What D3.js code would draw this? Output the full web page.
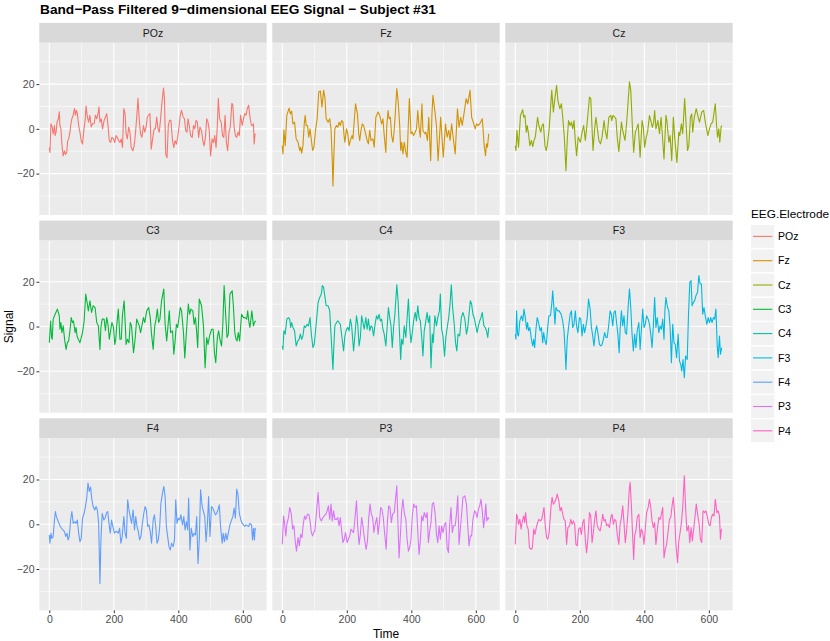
<!DOCTYPE html>
<html>
<head>
<meta charset="utf-8">
<script src="https://cdn.jsdelivr.net/npm/d3@7"></script>
<style>
  body { margin: 0; background: #fff; }
  svg { display: block; font-family: "Liberation Sans", Arial, sans-serif; }
</style>
</head>
<body>
<svg width="830" height="641"></svg>
<script>
// electrodes in facet order, ggplot hue colours
var electrodes = ["POz", "Fz", "Cz", "C3", "C4", "F3", "F4", "P3", "P4"];
var colours = ["#F8766D", "#D39200", "#93AA00", "#00BA38", "#00C19F", "#00B9E3", "#619CFF", "#DB72FB", "#FF61C3"];
var xTicks = [0, 200, 400, 600];
var yTicks = [-20, 0, 20];

// [time, signal]
var poz = [[0,-8.3],[2,-10.6],[5,2.3],[9,0.8],[12,-2.3],[16,1.5],[18,-3],[21,-1.5],[24,3],[28,4.5],[31,7.6],[33,1.5],[36,0],[39,-6.8],[43,-12.1],[47,-9.8],[50,-11.4],[54,-10.6],[57,-5.3],[60,-4.5],[64,-1.5],[67,2.3],[70,4.5],[74,6.1],[78,9.1],[81,6.1],[84,8.3],[87,6.8],[91,1.5],[95,-1.5],[99,-5.3],[103,-6.8],[107,-0.8],[111,3.8],[114,10.2],[118,5.3],[122,3],[126,6.1],[130,0.8],[134,2.3],[139,2.3],[143,6.1],[147,4.5],[151,6.8],[154,9.8],[157,3],[161,4.5],[165,0],[170,3.8],[174,5.3],[178,6.8],[182,1.5],[186,-5.3],[190,-6.1],[194,-3.8],[199,-4.5],[203,-6.1],[207,-3],[211,-3.8],[215,-5.3],[219,-6.1],[223,-4.5],[227,-8.3],[231,9.1],[235,6.8],[238,-2.3],[242,-4.5],[246,0.8],[250,-1.5],[254,-8.3],[259,-9.8],[263,-7.6],[267,-2.3],[271,5.3],[275,13.6],[279,3.8],[283,-2.3],[287,-3.8],[292,1.5],[296,-1.5],[300,0.8],[304,5.3],[308,6.1],[312,6.8],[316,-9.1],[321,-3.8],[325,0],[329,0],[333,5.3],[337,0],[341,-1.5],[345,4.5],[349,11.4],[354,18.2],[357,13.6],[361,-11.4],[365,-12.9],[369,1.5],[373,3.8],[377,3.8],[382,-5.3],[386,-8.3],[390,-5.3],[394,-6.8],[398,-3.8],[402,0.8],[406,6.1],[410,8.3],[415,5.3],[419,4.5],[423,-0.8],[427,-1.5],[430,4.5],[434,1.5],[438,-3],[443,-3.8],[447,1.5],[451,0],[455,3.8],[459,3],[463,-3.8],[467,0.8],[472,-0.8],[476,-5.3],[480,-7.6],[484,-3.8],[488,4.5],[492,3],[496,-0.8],[500,-12.1],[505,-4.5],[509,-6.1],[513,-3],[517,-8.3],[521,1.5],[524,13.6],[528,4.5],[533,3],[537,-3],[541,-3.8],[545,6.1],[549,-6.1],[553,-9.8],[557,-1.5],[561,0.8],[566,11.4],[569,10.6],[573,0.8],[577,-3],[581,-3.8],[585,-1.5],[589,-3],[593,6.1],[598,1.5],[602,4.5],[606,6.8],[610,6.1],[614,9.1],[618,10.6],[622,5.3],[627,1.5],[631,1.5],[633,2.3],[635,-6.8],[638,-2.3],[640,-2.3]];
var fz = [[0,-7.5],[2,-11.2],[5,-0.4],[9,-7.5],[14,6],[21,9.3],[25,6.7],[29,7.9],[33,2.2],[38,3],[43,-4.5],[49,-6],[54,-9.7],[57,-8.2],[60,-10.9],[64,-7.5],[68,2.2],[71,6],[74,1.5],[78,1.5],[82,-3.7],[86,0],[89,-3.7],[94,-9.7],[98,-8.2],[103,-0.7],[108,4.5],[113,16.5],[118,16.9],[123,9.7],[128,17.2],[132,14.2],[136,4.5],[142,3],[147,4.5],[151,0],[155,-14.2],[157,-25.5],[160,-11.2],[163,0],[168,1.5],[172,0.7],[176,3],[180,1.5],[184,3.7],[188,3],[192,-3.7],[194,-6],[199,0],[203,-2.2],[207,-7.5],[211,-5.2],[216,-3],[219,-4.5],[227,11.2],[233,6.7],[237,-2.2],[240,-5.2],[244,-0.7],[248,2.2],[252,1.5],[257,-1.5],[263,-5.2],[267,-6.7],[271,-0.7],[275,-5.2],[281,-4.5],[285,-8.2],[290,5.2],[297,7.5],[302,6],[308,2.2],[312,4.5],[316,-3],[321,-10.5],[324,1.5],[328,8.2],[331,4.5],[335,5.2],[339,-3],[343,-6],[346,-2.2],[349,3.7],[355,18],[359,12.7],[364,1.5],[367,-9.7],[370,-6],[374,-11.2],[378,-6],[383,-10.5],[387,-12.7],[391,3],[394,13.5],[399,-2.2],[403,-1.5],[407,-3],[412,-1.5],[416,0],[420,8.2],[424,0.7],[428,-3.7],[433,11.2],[436,-0.7],[442,-2.2],[445,-1.5],[450,-5.2],[454,5.2],[460,-14.2],[464,6.7],[467,15],[474,6.7],[478,1.5],[483,-14.2],[491,5.2],[499,-12.7],[506,2.2],[511,-3.7],[516,-0.7],[520,-5.2],[525,2.2],[529,-3],[536,-11.2],[543,9],[548,0.7],[553,5.2],[558,1.5],[570,13.5],[575,11.2],[582,17.2],[587,5.2],[592,3],[598,0],[602,2.2],[607,1.5],[612,2.2],[620,4.5],[626,-7.5],[630,-12],[633,-6.7],[636,-8.2],[640,-2.2]];
var cz = [[0,-7.5],[2,-9.7],[5,-0.7],[10,-8.2],[16,6],[23,8.5],[26,5.2],[30,6],[34,-1.5],[37,1.5],[41,-2.2],[45,-7.5],[50,-5.2],[54,-7.9],[58,-5.2],[62,-3.7],[65,0],[69,5.2],[73,1.5],[79,-1.5],[83,1.5],[87,2.2],[92,-7.5],[96,-9.7],[99,-7.5],[105,0],[113,17.2],[118,7.5],[122,12.7],[128,19.5],[132,12.7],[138,9],[143,11.2],[147,5.2],[152,-3.7],[157,-18.7],[161,-5.2],[165,3.7],[170,1.5],[174,3],[178,0],[182,3.7],[186,-5.2],[190,-12],[195,-3.7],[202,-6],[207,-1.5],[212,1.5],[217,-5.2],[221,0],[230,14.2],[234,13.5],[238,0],[241,-9.7],[246,0],[250,5.2],[254,0.7],[259,-5.2],[264,-6.7],[269,-3.7],[275,3.7],[279,-0.7],[284,-4.5],[290,5.2],[296,6],[299,3.7],[303,6],[308,5.2],[312,4.5],[316,-3.7],[321,-10.2],[325,-3.7],[329,3],[333,-0.7],[340,-5.2],[345,2.2],[354,21],[358,17.2],[364,-2.2],[367,-10.5],[372,-1.5],[376,0],[381,2.2],[387,-12.7],[393,3.7],[397,0.7],[401,-8.2],[406,-3.7],[410,-1.5],[416,6],[420,3.7],[425,0.7],[429,3],[432,8.2],[436,0],[442,3.7],[447,-2.2],[452,5.2],[456,-3],[461,-13.5],[467,6],[470,3.7],[476,-6],[480,-3],[485,-14.2],[490,5.2],[495,-5.2],[501,-15],[507,-1.5],[510,-3],[515,2.2],[519,-2.2],[525,13.5],[528,6],[534,-9.7],[538,-7.5],[543,5.2],[547,6.7],[550,-1.5],[555,5.2],[561,9],[567,5.2],[571,3],[578,7.5],[584,8.2],[589,3],[597,-3],[602,0],[607,2.2],[612,3],[620,11.2],[624,1.5],[627,-3.7],[631,0],[634,-6],[638,0.7],[640,1.5]];
var c3 = [[0,-7.2],[4,2.5],[7,-4.9],[9,-5.7],[12,3.3],[18,5.5],[25,7.8],[31,4.8],[33,-1.2],[36,1.8],[39,-2.7],[43,0.3],[48,-6.4],[52,-10.2],[56,-7.2],[60,-6.4],[64,-1.9],[68,4],[72,1.8],[75,2.5],[80,-2.7],[83,-0.4],[86,-4.2],[90,-5.7],[95,-7.2],[99,-4.9],[103,-2.7],[108,2.5],[113,14.5],[118,10],[121,7],[126,11.5],[131,6.3],[136,9.3],[142,8.5],[147,1.8],[152,0.3],[157,-10.2],[160,-0.4],[164,3.3],[170,3.3],[174,-1.9],[178,4],[182,1],[186,-5.7],[190,-1.9],[194,1.8],[199,-0.4],[203,-8],[206,-5.7],[209,0.3],[214,7.8],[219,-5.7],[223,-5.7],[227,5.5],[232,11.5],[236,-0.4],[238,-8],[242,-5.7],[247,-7.2],[251,1.8],[255,0.3],[261,-11.7],[266,-5.7],[271,3.3],[275,1.8],[279,0.3],[283,-2.7],[287,0.3],[292,4],[296,1.8],[302,7],[308,8.5],[313,4],[317,-3.4],[322,-10.2],[327,0.3],[331,3.3],[335,7.8],[339,1.8],[343,3.3],[348,11.5],[355,16.8],[359,1],[364,-6.4],[368,0.3],[372,7],[376,-2.7],[382,-1.9],[386,-12.4],[390,-6.4],[394,1],[398,-0.4],[402,4],[406,8.5],[410,7],[416,-2.7],[420,-14],[423,-7.2],[428,4],[431,10],[435,5.5],[439,7.8],[445,7],[449,1],[453,4],[457,-2.7],[460,-9.4],[465,12.3],[472,9.3],[478,0.3],[483,-18.4],[488,-4.9],[492,-8],[497,-4.2],[503,-1.2],[508,-1.2],[512,-11.7],[516,-16.2],[521,-4.9],[525,-1.9],[529,-5.7],[534,-8.7],[538,1],[542,18.3],[547,4.8],[551,-4.9],[555,-3.4],[560,14.5],[567,16],[571,8.5],[575,-2.7],[579,-5.7],[582,-6.4],[586,-2.7],[590,-6.4],[596,5.5],[602,4],[607,4],[612,3.3],[615,7],[619,1.8],[622,-0.4],[628,7],[633,0.3],[636,1.8],[640,2.5]];
var c4 = [[0,-8.7],[2,-10.2],[5,-1.9],[9,-3.4],[14,3.3],[19,4],[23,3.3],[26,-0.4],[29,1.8],[33,-0.4],[38,-1.9],[43,-8.7],[48,-6.4],[52,-5.7],[56,-3.4],[60,-5.7],[64,-4.2],[68,0.3],[72,-0.4],[77,1],[81,0.3],[86,4],[90,-3.4],[95,-9.4],[99,-8],[105,1],[111,10.8],[116,13],[121,14.5],[124,18.3],[128,17.5],[131,14.5],[136,9.3],[142,9.3],[147,7],[151,-3.4],[155,-13.9],[157,-19.2],[160,-8],[163,0.3],[168,1.8],[172,2.5],[176,1.8],[180,1],[185,-4.9],[190,-10.9],[194,-4.2],[199,-1.2],[203,-0.4],[207,-1.9],[211,3.3],[215,0.3],[221,-10.9],[225,-4.2],[230,4.8],[234,1],[238,-8.7],[242,-4.9],[246,4.8],[250,1.8],[254,-1.2],[259,4],[263,-1.2],[267,3.3],[271,-1.9],[275,0.3],[279,-0.4],[283,-4.2],[287,0.3],[292,4.8],[296,3.3],[300,5.5],[304,2.5],[308,3.3],[312,-1.2],[316,-3.4],[321,-8.7],[325,-0.4],[329,8.5],[333,4],[337,0.3],[341,-9.4],[345,-0.4],[349,5.5],[355,18.7],[359,11.5],[364,-4.9],[367,-14.7],[370,-5.7],[374,-8],[378,0.3],[383,-4.9],[387,4],[391,12.3],[395,-0.4],[399,-7.2],[403,-2.7],[407,2.5],[412,6.3],[416,2.5],[420,9.3],[424,4],[428,2.5],[432,-4.2],[436,-13.2],[440,-1.9],[445,2.5],[449,6.3],[453,1.8],[457,4.8],[461,-18.4],[465,-3.4],[468,-7.2],[473,4.8],[478,0.3],[482,4],[487,7],[490,14.5],[494,-1.2],[498,-4.2],[503,-13.2],[507,-4.9],[512,0.3],[516,4],[520,10],[524,18.7],[528,8.5],[533,1],[537,-7.2],[541,-10.9],[545,-3.4],[550,-4.2],[555,4],[560,6.3],[566,3.3],[571,-3.4],[575,-0.4],[579,5.5],[583,11.5],[587,10],[591,5.5],[596,3.3],[600,0.3],[604,-2.7],[608,0.3],[612,2.5],[616,4],[620,6.3],[625,0.3],[629,-0.4],[633,-1.9],[637,-4.9],[640,-0.4]];
var f3 = [[0,-3.4],[2,-5.7],[4,7],[7,-3.4],[10,-4.2],[14,2.5],[19,4.8],[23,2.5],[27,7.8],[31,4],[35,-1.2],[38,1.8],[41,-1.9],[45,-0.4],[50,-5.7],[54,-8.7],[57,-5.7],[60,-9.4],[64,-1.2],[68,4],[72,1.8],[77,-1.9],[81,-0.4],[85,-7.2],[88,-2.7],[92,-6.4],[96,-8],[100,-1.2],[104,4.8],[109,4.8],[113,10],[116,16],[120,7.8],[123,1],[126,8.5],[131,7],[136,7],[142,5.5],[147,2.5],[151,-1.9],[155,-12.4],[157,-19.2],[161,-5.7],[165,-0.4],[170,5.5],[174,7],[178,-0.4],[182,1],[186,7],[190,0.3],[194,-2.7],[199,4],[203,3.3],[207,-4.2],[211,1],[215,-2.7],[219,0.3],[223,4],[227,12.3],[232,7.8],[236,-0.4],[240,-4.2],[244,-8.7],[248,-2.7],[252,0.3],[256,-2.7],[261,-8],[265,-8.7],[269,-8],[273,-5.7],[277,-2.7],[281,-4.9],[285,-4.9],[290,1],[294,7],[298,5.5],[302,0.3],[306,6.3],[310,7],[314,1.8],[318,-3.4],[322,-11.7],[325,-1.2],[329,7],[333,0.3],[337,4.8],[341,-2.7],[345,-3.4],[349,7],[354,16.8],[358,8.5],[362,-3.4],[366,-10.9],[370,-3.4],[374,-9.4],[378,-1.9],[383,1.8],[387,-10.2],[391,-1.2],[395,7.8],[399,-0.4],[403,1],[407,4.8],[412,3.3],[416,1],[420,-3.4],[424,-9.4],[428,0.3],[432,13],[436,-0.4],[440,4],[445,-2.7],[449,0.3],[453,-1.2],[457,3.3],[461,-5.7],[464,7.8],[467,13],[472,8.5],[476,7],[480,-0.4],[484,-16.2],[488,1],[492,-7.2],[496,-8],[500,-13.9],[505,-3.4],[509,-15.4],[513,-16.9],[516,-19.9],[520,-14.7],[524,-22.9],[528,-13.2],[533,-14.7],[537,5.5],[541,19.8],[545,20.5],[548,9.3],[552,10.8],[556,11.5],[560,13.8],[565,15.3],[569,22.8],[573,19],[577,19],[581,5.5],[585,8.5],[589,4.8],[594,1],[598,4],[602,1.8],[606,4],[610,1.8],[614,4],[618,3.3],[622,7.8],[626,-8.7],[629,-13.9],[633,-4.2],[636,-12.4],[640,-9.4]];
var f4 = [[0,-4.8],[2,-8.5],[5,-4],[8,-6.3],[12,-5.5],[16,1.9],[19,5.7],[22,3.4],[26,1.9],[30,0.4],[34,-1],[38,-1.8],[42,-2.5],[47,-3.3],[51,-5.5],[55,-4],[58,-7],[62,-5.5],[66,1.9],[70,5.7],[74,0.4],[79,1.2],[83,0.4],[87,1.9],[91,-4],[95,-7.8],[99,-6.3],[103,2.7],[108,4.9],[112,7.9],[116,11.7],[120,18.4],[124,14.7],[128,16.6],[132,10.9],[136,7.9],[141,6.4],[145,7.9],[149,6.4],[153,0.4],[157,-26.5],[160,-7],[164,4.9],[169,1.9],[173,2.7],[177,4.9],[181,5.7],[185,0.4],[189,-4],[193,1.9],[197,-1],[202,-4],[206,-3.3],[210,-3.3],[214,-4],[218,-1.8],[222,-8.5],[226,-5.5],[231,3.4],[235,-4],[239,-6.3],[243,10.9],[247,6.4],[251,3.4],[255,0.4],[260,6.4],[264,-2.5],[268,3.4],[272,-1],[276,-3.3],[280,-7],[284,-5.5],[288,-0.3],[293,4.9],[297,7.9],[301,6.4],[305,-1],[309,-0.3],[313,-3.3],[317,-8.5],[322,1.9],[326,4.2],[330,-1],[334,-8.5],[338,-7],[342,-1.8],[346,9.4],[351,13.9],[355,16.9],[359,12.4],[363,-1],[367,-5.5],[371,-10],[375,-11.5],[379,-8.5],[384,-10],[388,-7],[392,10.9],[396,0.4],[400,2.7],[404,1.9],[408,4.2],[413,-0.3],[417,3.4],[421,-2.5],[425,1.2],[429,-2.5],[432,11.7],[436,-11.5],[440,-1.8],[445,-5.5],[449,-4],[453,-4.8],[457,3.4],[461,-17.5],[465,-7],[469,15.4],[474,7.9],[478,5.7],[482,3.4],[486,-7.8],[490,-0.3],[494,12.4],[498,-5.5],[503,7.9],[507,7.2],[511,5.7],[515,4.2],[519,4.9],[523,6.4],[527,8.7],[531,-1],[536,-8.5],[539,-4],[543,-7.8],[547,-4],[551,-7],[555,-4],[560,-0.3],[565,1.9],[569,3.4],[573,7.2],[577,2.7],[581,15.7],[585,13.2],[589,4.9],[594,1.9],[598,0.4],[602,-0.3],[606,-1],[610,-0.3],[614,-0.7],[618,-1],[622,0.4],[627,-0.3],[630,-7],[633,-1.8],[636,-7],[638,-1.8],[640,-2.5]];
var p3 = [[0,-9],[4,3.7],[7,0.7],[11,-5.2],[14,0],[19,3],[23,7.5],[28,4.5],[32,-2.2],[36,-0.7],[40,-7.5],[44,-12],[49,-6],[53,-9.7],[57,-4.5],[61,-6],[65,0],[69,3.7],[73,2.2],[78,4.5],[82,4.5],[86,1.5],[90,-3.7],[94,-5.2],[97,-3.7],[101,-3],[105,3.7],[111,14.2],[116,3],[121,1.5],[126,3],[130,3.7],[135,4.5],[139,6],[143,8.2],[147,2.2],[151,9],[155,1.5],[159,6],[163,2.2],[168,2.2],[172,3],[176,-0.7],[180,3],[184,-3],[188,-8.2],[192,-6.7],[196,-3.7],[201,-8.2],[205,-6.7],[209,-5.2],[213,-2.2],[217,-3],[221,-3.7],[225,2.2],[230,10.5],[234,-1.5],[238,-9],[242,-4.5],[246,3],[250,-0.7],[255,-6.7],[260,-11.2],[264,-7.5],[268,3],[272,9],[276,4.5],[280,3],[284,-3.7],[288,0],[293,3],[297,-4.5],[301,0.7],[305,7.5],[309,6.7],[313,3],[317,-3.7],[322,-11.2],[326,1.5],[330,8.2],[334,7.5],[338,0.7],[342,4.5],[347,5.2],[351,11.2],[355,17.2],[359,-1.5],[362,-15],[366,-5.2],[370,6],[374,11.2],[378,5.2],[383,2.2],[387,-6.7],[391,-12],[395,-10.5],[399,-6.7],[403,3.7],[407,9],[412,7.5],[416,8.2],[420,-3],[424,-13.5],[428,-7.5],[432,3.7],[436,1.5],[440,5.2],[445,3],[449,5.2],[453,-8.2],[457,-3],[461,0.7],[465,9],[469,9.7],[474,4.5],[478,-4.5],[482,-8.2],[486,-0.7],[490,-6.7],[494,-0.7],[498,-3.7],[503,0],[507,0.7],[511,-10.5],[515,-12.7],[519,0],[523,7.5],[527,-3.7],[531,-0.7],[536,-0.7],[540,4.5],[544,12.7],[548,-9],[552,-2.2],[556,4.5],[560,12],[566,12.7],[571,9],[575,-0.7],[579,-9.7],[583,-5.2],[587,-5.2],[591,2.2],[596,6],[600,5.2],[604,3],[608,6.7],[612,8.2],[616,11.2],[620,6],[624,-1.5],[628,3.7],[631,9],[634,1.5],[638,3],[640,2.2]];
var p4 = [[0,-9],[4,4.5],[7,3],[10,0],[14,2.2],[18,-2.2],[22,1.5],[26,3.7],[29,0.7],[32,5.2],[36,-0.7],[40,-2.2],[44,-10.5],[49,-11.2],[53,-10.5],[57,-2.2],[61,-4.5],[65,-1.5],[69,0.7],[73,2.2],[78,1.5],[82,2.2],[85,4.5],[89,7.5],[93,-0.7],[97,-6],[101,-6.7],[105,-3.7],[111,8.2],[114,12],[118,9],[122,9.7],[126,11.2],[130,13.5],[135,10.5],[139,6],[143,7.5],[147,4.5],[151,2.2],[155,1.5],[159,-9],[163,-1.5],[168,-0.7],[172,2.2],[176,0],[180,1.5],[184,0],[188,-9],[192,-9.7],[196,-2.2],[201,-1.5],[205,-4.5],[209,0.7],[213,2.2],[217,-6.7],[221,-12.7],[225,-6.7],[230,5.2],[234,3.7],[238,-8.2],[242,-3.7],[246,2.2],[250,6],[254,-0.7],[259,-2.2],[263,-3],[267,0],[271,4.5],[275,1.5],[279,2.2],[283,-0.7],[287,0],[292,-1.5],[296,3],[300,4.5],[304,0],[308,2.2],[312,1.5],[316,-4.5],[321,-9],[325,0],[329,3],[333,8.2],[337,0.7],[341,-8.2],[345,-3],[349,4.5],[353,15],[356,18.7],[360,8.2],[364,-6],[367,-15.7],[370,-5.2],[374,-3],[378,3],[383,4.5],[387,-6],[391,-2.2],[395,-3.7],[399,-9],[403,-2.2],[407,5.2],[412,7.5],[416,11.2],[420,7.5],[424,1.5],[428,-1.5],[432,0.7],[436,-9],[440,-3],[445,3],[449,2.2],[453,4.5],[457,7.5],[461,-15],[465,-11.2],[469,-9],[474,-3],[478,2.2],[482,3],[486,8.2],[490,12],[494,4.5],[498,-9],[503,-17.2],[507,-7.5],[511,-3.7],[515,0.7],[519,7.5],[524,21.7],[528,7.5],[532,-3],[537,-0.7],[541,-8.2],[545,-1.5],[549,-7.5],[553,-2.2],[557,3],[561,9],[566,3.7],[570,0],[574,-6.7],[578,-8.2],[582,6],[587,5.2],[591,6],[596,3],[600,0],[604,-0.7],[608,3],[612,4.5],[616,3.7],[620,11.2],[625,5.2],[629,6],[633,3.7],[636,-6.7],[639,-2.2],[640,-2.2]];

var series = [poz, fz, cz, c3, c4, f3, f4, p3, p4];

var svg = d3.select("svg");

// facet grid geometry
var left = 39.3, panelW = 227.4, gapX = 5.6;
var rowTops = [22.9, 220.6, 418.3], stripH = 19.8, panelH = 172.3;

var x = d3.scaleLinear().domain([-31, 674]).range([0, panelW]);
var y = d3.scaleLinear().domain([-38.5, 38.5]).range([panelH, 0]);

var line = d3.line()
	.x(function (d) { return x(d[0]) })
	.y(function (d) { return y(d[1]) });

svg.append("text")
	.attr("x", 40).attr("y", 14)
	.attr("font-size", "13.7px").attr("font-weight", "bold")
	.attr("fill", "#000")
	.text("Band\u2212Pass Filtered 9\u2212dimensional EEG Signal \u2212 Subject #31");

electrodes.forEach(function (name, i) {
	var col = i % 3, row = Math.floor(i / 3);
	var px = left + col * (panelW + gapX);
	var sy = rowTops[row];
	var g = svg.append("g").attr("transform", "translate(" + px + "," + (sy + stripH) + ")");

	// strip
	svg.append("rect").attr("x", px).attr("y", sy).attr("width", panelW).attr("height", stripH).attr("fill", "#D9D9D9");
	svg.append("text").attr("x", px + panelW / 2).attr("y", sy + stripH / 2 + 3.8)
		.attr("text-anchor", "middle").attr("font-size", "10.5px").attr("fill", "#1A1A1A").text(name);

	// panel background and grid
	g.append("rect").attr("width", panelW).attr("height", panelH).attr("fill", "#EBEBEB");
	g.selectAll(".ymin").data([-30, -10, 10, 30]).enter().append("line")
		.attr("x1", 0).attr("x2", panelW)
		.attr("y1", function (d) { return y(d) }).attr("y2", function (d) { return y(d) })
		.attr("stroke", "#fff").attr("stroke-width", 0.55);
	g.selectAll(".xmin").data([100, 300, 500]).enter().append("line")
		.attr("y1", 0).attr("y2", panelH)
		.attr("x1", function (d) { return x(d) }).attr("x2", function (d) { return x(d) })
		.attr("stroke", "#fff").attr("stroke-width", 0.55);
	g.selectAll(".ymaj").data(yTicks).enter().append("line")
		.attr("x1", 0).attr("x2", panelW)
		.attr("y1", function (d) { return y(d) }).attr("y2", function (d) { return y(d) })
		.attr("stroke", "#fff").attr("stroke-width", 1.1);
	g.selectAll(".xmaj").data(xTicks).enter().append("line")
		.attr("y1", 0).attr("y2", panelH)
		.attr("x1", function (d) { return x(d) }).attr("x2", function (d) { return x(d) })
		.attr("stroke", "#fff").attr("stroke-width", 1.1);

	// signal
	g.append("path")
		.datum(series[i])
		.attr("fill", "none")
		.attr("stroke", colours[i])
		.attr("stroke-width", 1.1)
		.attr("stroke-linejoin", "round")
		.attr("d", line);

	if (col === 0) {
		var ya = g.append("g").call(d3.axisLeft(y).tickValues(yTicks).tickSize(2.8).tickPadding(2));
		ya.select(".domain").remove();
		ya.selectAll("line").attr("stroke", "#333");
		ya.selectAll("text").attr("font-size", "10.5px").attr("fill", "#4D4D4D").attr("font-family", null);
	}
	if (row === 2) {
		var xa = g.append("g").attr("transform", "translate(0," + panelH + ")")
			.call(d3.axisBottom(x).tickValues(xTicks).tickSize(2.8).tickPadding(2));
		xa.select(".domain").remove();
		xa.selectAll("line").attr("stroke", "#333");
		xa.selectAll("text").attr("font-size", "10.5px").attr("fill", "#4D4D4D").attr("font-family", null);
	}
});

// axis titles
svg.append("text").attr("x", left + (3 * panelW + 2 * gapX) / 2).attr("y", 638)
	.attr("text-anchor", "middle").attr("font-size", "12px").attr("fill", "#000").text("Time");
svg.append("text").attr("transform", "translate(13," + (rowTops[0] + (rowTops[2] + stripH + panelH - rowTops[0]) / 2 + 10) + ") rotate(-90)")
	.attr("text-anchor", "middle").attr("font-size", "12px").attr("fill", "#000").text("Signal");

// legend
var lx = 751, ly = 225, keyH = 24.3;
svg.append("text").attr("x", lx).attr("y", 218).attr("font-size", "11.8px").attr("fill", "#000").text("EEG.Electrode");
var lg = svg.selectAll(".key").data(electrodes).enter().append("g")
	.attr("transform", function (d, i) { return "translate(" + lx + "," + (ly + i * keyH) + ")" });
lg.append("rect").attr("width", 23.3).attr("height", keyH - 1.5).attr("fill", "#F2F2F2");
lg.append("line").attr("x1", 2).attr("x2", 21.3).attr("y1", (keyH - 1.5) / 2).attr("y2", (keyH - 1.5) / 2)
	.attr("stroke", function (d, i) { return colours[i] }).attr("stroke-width", 1.1);
lg.append("text").attr("x", 27).attr("y", (keyH - 1.5) / 2 + 3.8)
	.attr("font-size", "10.5px").attr("fill", "#000").text(function (d) { return d });
</script>
</body>
</html>
